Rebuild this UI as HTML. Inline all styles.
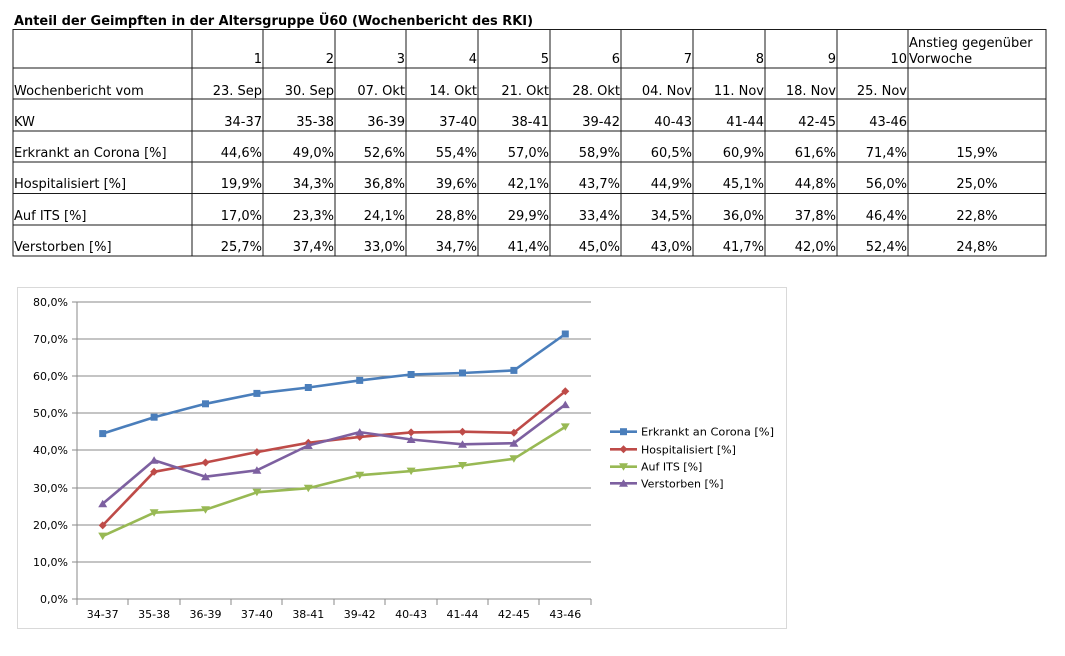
<!DOCTYPE html>
<html><head><meta charset="utf-8"><style>
html,body{margin:0;padding:0;background:#fff;}
svg{display:block;}
text{font-family:"DejaVu Sans","Liberation Sans",sans-serif;fill:#000;}
</style></head><body>
<svg width="1065" height="656" viewBox="0 0 1065 656" xmlns="http://www.w3.org/2000/svg">
<rect width="1065" height="656" fill="#fff"/>
<text x="14" y="25" font-size="13.5" font-weight="bold" textLength="519" lengthAdjust="spacingAndGlyphs">Anteil der Geimpften in der Altersgruppe Ü60 (Wochenbericht des RKI)</text>

<!-- table grid -->
<g stroke="#1a1a1a" stroke-width="1.3" fill="none" shape-rendering="crispEdges">
<line x1="13" y1="29.5" x2="1046" y2="29.5"/>
<line x1="13" y1="68" x2="1046" y2="68"/>
<line x1="13" y1="99" x2="1046" y2="99"/>
<line x1="13" y1="131" x2="1046" y2="131"/>
<line x1="13" y1="162" x2="1046" y2="162"/>
<line x1="13" y1="193.5" x2="1046" y2="193.5"/>
<line x1="13" y1="225" x2="1046" y2="225"/>
<line x1="13" y1="256" x2="1046" y2="256"/>
<line x1="13" y1="29" x2="13" y2="256.5"/>
<line x1="192" y1="29" x2="192" y2="256.5"/>
<line x1="263" y1="29" x2="263" y2="256.5"/>
<line x1="335" y1="29" x2="335" y2="256.5"/>
<line x1="406" y1="29" x2="406" y2="256.5"/>
<line x1="478" y1="29" x2="478" y2="256.5"/>
<line x1="550" y1="29" x2="550" y2="256.5"/>
<line x1="621" y1="29" x2="621" y2="256.5"/>
<line x1="693" y1="29" x2="693" y2="256.5"/>
<line x1="765" y1="29" x2="765" y2="256.5"/>
<line x1="837" y1="29" x2="837" y2="256.5"/>
<line x1="908" y1="29" x2="908" y2="256.5"/>
<line x1="1046" y1="29" x2="1046" y2="256.5"/>
</g>

<g font-size="13">
<text x="14" y="95">Wochenbericht vom</text>
<text x="14" y="126">KW</text>
<text x="14" y="157">Erkrankt an Corona [%]</text>
<text x="14" y="188">Hospitalisiert [%]</text>
<text x="14" y="220">Auf ITS [%]</text>
<text x="14" y="251">Verstorben [%]</text>
<text x="909" y="47">Anstieg gegenüber</text>
<text x="909" y="63">Vorwoche</text>
</g>

<g font-size="13" text-anchor="end">
<!-- col ends: 262,334,405,477,549,620,692,764,836,907 -->
<text x="262" y="63">1</text><text x="334" y="63">2</text><text x="405" y="63">3</text><text x="477" y="63">4</text><text x="549" y="63">5</text><text x="620" y="63">6</text><text x="692" y="63">7</text><text x="764" y="63">8</text><text x="836" y="63">9</text><text x="907" y="63">10</text>

<text x="262" y="95">23. Sep</text><text x="334" y="95">30. Sep</text><text x="405" y="95">07. Okt</text><text x="477" y="95">14. Okt</text><text x="549" y="95">21. Okt</text><text x="620" y="95">28. Okt</text><text x="692" y="95">04. Nov</text><text x="764" y="95">11. Nov</text><text x="836" y="95">18. Nov</text><text x="907" y="95">25. Nov</text>

<text x="262" y="126">34-37</text><text x="334" y="126">35-38</text><text x="405" y="126">36-39</text><text x="477" y="126">37-40</text><text x="549" y="126">38-41</text><text x="620" y="126">39-42</text><text x="692" y="126">40-43</text><text x="764" y="126">41-44</text><text x="836" y="126">42-45</text><text x="907" y="126">43-46</text>

<text x="262" y="157">44,6%</text><text x="334" y="157">49,0%</text><text x="405" y="157">52,6%</text><text x="477" y="157">55,4%</text><text x="549" y="157">57,0%</text><text x="620" y="157">58,9%</text><text x="692" y="157">60,5%</text><text x="764" y="157">60,9%</text><text x="836" y="157">61,6%</text><text x="907" y="157">71,4%</text>

<text x="262" y="188">19,9%</text><text x="334" y="188">34,3%</text><text x="405" y="188">36,8%</text><text x="477" y="188">39,6%</text><text x="549" y="188">42,1%</text><text x="620" y="188">43,7%</text><text x="692" y="188">44,9%</text><text x="764" y="188">45,1%</text><text x="836" y="188">44,8%</text><text x="907" y="188">56,0%</text>

<text x="262" y="220">17,0%</text><text x="334" y="220">23,3%</text><text x="405" y="220">24,1%</text><text x="477" y="220">28,8%</text><text x="549" y="220">29,9%</text><text x="620" y="220">33,4%</text><text x="692" y="220">34,5%</text><text x="764" y="220">36,0%</text><text x="836" y="220">37,8%</text><text x="907" y="220">46,4%</text>

<text x="262" y="251">25,7%</text><text x="334" y="251">37,4%</text><text x="405" y="251">33,0%</text><text x="477" y="251">34,7%</text><text x="549" y="251">41,4%</text><text x="620" y="251">45,0%</text><text x="692" y="251">43,0%</text><text x="764" y="251">41,7%</text><text x="836" y="251">42,0%</text><text x="907" y="251">52,4%</text>
</g>
<g font-size="13" text-anchor="middle">
<text x="977" y="157">15,9%</text>
<text x="977" y="188">25,0%</text>
<text x="977" y="220">22,8%</text>
<text x="977" y="251">24,8%</text>
</g>

<!-- chart frame -->
<rect x="17.5" y="287.5" width="769" height="341" fill="#fff" stroke="#d9d9d9" stroke-width="1"/>

<!-- gridlines -->
<g stroke="#8a8a8a" stroke-width="1" shape-rendering="crispEdges">
<line x1="77" y1="302" x2="591" y2="302"/>
<line x1="77" y1="339" x2="591" y2="339"/>
<line x1="77" y1="376" x2="591" y2="376"/>
<line x1="77" y1="413" x2="591" y2="413"/>
<line x1="77" y1="450" x2="591" y2="450"/>
<line x1="77" y1="488" x2="591" y2="488"/>
<line x1="77" y1="525" x2="591" y2="525"/>
<line x1="77" y1="562" x2="591" y2="562"/>
<line x1="77" y1="599" x2="591" y2="599"/>
<line x1="77" y1="302" x2="77" y2="599"/>
<line x1="72" y1="302" x2="77" y2="302"/>
<line x1="72" y1="339" x2="77" y2="339"/>
<line x1="72" y1="376" x2="77" y2="376"/>
<line x1="72" y1="413" x2="77" y2="413"/>
<line x1="72" y1="450" x2="77" y2="450"/>
<line x1="72" y1="488" x2="77" y2="488"/>
<line x1="72" y1="525" x2="77" y2="525"/>
<line x1="72" y1="562" x2="77" y2="562"/>
<line x1="72" y1="599" x2="77" y2="599"/>
<line x1="77" y1="599" x2="77" y2="605"/>
<line x1="128" y1="599" x2="128" y2="605"/>
<line x1="180" y1="599" x2="180" y2="605"/>
<line x1="231" y1="599" x2="231" y2="605"/>
<line x1="282" y1="599" x2="282" y2="605"/>
<line x1="334" y1="599" x2="334" y2="605"/>
<line x1="385" y1="599" x2="385" y2="605"/>
<line x1="437" y1="599" x2="437" y2="605"/>
<line x1="488" y1="599" x2="488" y2="605"/>
<line x1="539" y1="599" x2="539" y2="605"/>
<line x1="591" y1="599" x2="591" y2="605"/>
</g>

<g font-size="11" text-anchor="end">
<text x="68" y="306">80,0%</text>
<text x="68" y="343">70,0%</text>
<text x="68" y="380">60,0%</text>
<text x="68" y="417">50,0%</text>
<text x="68" y="454">40,0%</text>
<text x="68" y="492">30,0%</text>
<text x="68" y="529">20,0%</text>
<text x="68" y="566">10,0%</text>
<text x="68" y="603">0,0%</text>
</g>
<g font-size="11" text-anchor="middle">
<text x="102.7" y="618">34-37</text>
<text x="154.1" y="618">35-38</text>
<text x="205.5" y="618">36-39</text>
<text x="256.9" y="618">37-40</text>
<text x="308.3" y="618">38-41</text>
<text x="359.7" y="618">39-42</text>
<text x="411.1" y="618">40-43</text>
<text x="462.5" y="618">41-44</text>
<text x="513.9" y="618">42-45</text>
<text x="565.3" y="618">43-46</text>
</g>

<defs>
<rect id="sq" x="-3.5" y="-3.5" width="7" height="7" fill="#4a7ebb"/>
<polygon id="dm" points="0,-4 4,0 0,4 -4,0" fill="#be4b48"/>
<polygon id="tdn" points="-4.5,-3.5 4.5,-3.5 0,4" fill="#98b954"/>
<polygon id="tup" points="-4.5,3.5 4.5,3.5 0,-4" fill="#7d60a0"/>
</defs>

<!-- Erkrankt -->
<polyline fill="none" stroke="#4a7ebb" stroke-width="2.6" stroke-linejoin="round" points="102.7,433.6 154.1,417.2 205.5,403.8 256.9,393.4 308.3,387.5 359.7,380.4 411.1,374.5 462.5,373 513.9,370.4 565.3,334"/>
<g><use href="#sq" x="102.7" y="433.6"/><use href="#sq" x="154.1" y="417.2"/><use href="#sq" x="205.5" y="403.8"/><use href="#sq" x="256.9" y="393.4"/><use href="#sq" x="308.3" y="387.5"/><use href="#sq" x="359.7" y="380.4"/><use href="#sq" x="411.1" y="374.5"/><use href="#sq" x="462.5" y="373"/><use href="#sq" x="513.9" y="370.4"/><use href="#sq" x="565.3" y="334"/></g>

<!-- Hospitalisiert -->
<polyline fill="none" stroke="#be4b48" stroke-width="2.6" stroke-linejoin="round" points="102.7,525.4 154.1,471.8 205.5,462.5 256.9,452.1 308.3,442.8 359.7,436.9 411.1,432.4 462.5,431.7 513.9,432.8 565.3,391.2"/>
<g><use href="#dm" x="102.7" y="525.4"/><use href="#dm" x="154.1" y="471.8"/><use href="#dm" x="205.5" y="462.5"/><use href="#dm" x="256.9" y="452.1"/><use href="#dm" x="308.3" y="442.8"/><use href="#dm" x="359.7" y="436.9"/><use href="#dm" x="411.1" y="432.4"/><use href="#dm" x="462.5" y="431.7"/><use href="#dm" x="513.9" y="432.8"/><use href="#dm" x="565.3" y="391.2"/></g>

<!-- Auf ITS -->
<polyline fill="none" stroke="#98b954" stroke-width="2.6" stroke-linejoin="round" points="102.7,536.1 154.1,512.7 205.5,509.7 256.9,492.3 308.3,488.2 359.7,475.2 411.1,471.1 462.5,465.5 513.9,458.8 565.3,426.9"/>
<g><use href="#tdn" x="102.7" y="536.1"/><use href="#tdn" x="154.1" y="512.7"/><use href="#tdn" x="205.5" y="509.7"/><use href="#tdn" x="256.9" y="492.3"/><use href="#tdn" x="308.3" y="488.2"/><use href="#tdn" x="359.7" y="475.2"/><use href="#tdn" x="411.1" y="471.1"/><use href="#tdn" x="462.5" y="465.5"/><use href="#tdn" x="513.9" y="458.8"/><use href="#tdn" x="565.3" y="426.9"/></g>

<!-- Verstorben -->
<polyline fill="none" stroke="#7d60a0" stroke-width="2.6" stroke-linejoin="round" points="102.7,503.8 154.1,460.3 205.5,476.7 256.9,470.3 308.3,445.5 359.7,432.1 411.1,439.5 462.5,444.3 513.9,443.2 565.3,404.6"/>
<g><use href="#tup" x="102.7" y="503.8"/><use href="#tup" x="154.1" y="460.3"/><use href="#tup" x="205.5" y="476.7"/><use href="#tup" x="256.9" y="470.3"/><use href="#tup" x="308.3" y="445.5"/><use href="#tup" x="359.7" y="432.1"/><use href="#tup" x="411.1" y="439.5"/><use href="#tup" x="462.5" y="444.3"/><use href="#tup" x="513.9" y="443.2"/><use href="#tup" x="565.3" y="404.6"/></g>

<!-- legend -->
<line x1="610" y1="431.7" x2="637" y2="431.7" stroke="#4a7ebb" stroke-width="2.6"/><use href="#sq" x="623.5" y="431.7"/>
<line x1="610" y1="449.3" x2="637" y2="449.3" stroke="#be4b48" stroke-width="2.6"/><use href="#dm" x="623.5" y="449.3"/>
<line x1="610" y1="466.7" x2="637" y2="466.7" stroke="#98b954" stroke-width="2.6"/><use href="#tdn" x="623.5" y="466.7"/>
<line x1="610" y1="483.3" x2="637" y2="483.3" stroke="#7d60a0" stroke-width="2.6"/><use href="#tup" x="623.5" y="483.3"/>
<g font-size="11">
<text x="641" y="435.7" textLength="133" lengthAdjust="spacingAndGlyphs">Erkrankt an Corona [%]</text>
<text x="641" y="453.3">Hospitalisiert [%]</text>
<text x="641" y="470.7">Auf ITS [%]</text>
<text x="641" y="487.3">Verstorben [%]</text>
</g>
</svg>
</body></html>
